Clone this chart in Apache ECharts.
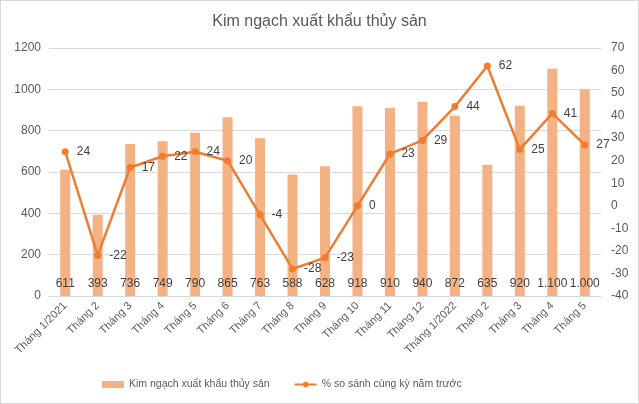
<!DOCTYPE html>
<html><head><meta charset="utf-8">
<script src="https://cdn.jsdelivr.net/npm/echarts@6/dist/echarts.min.js"></script>
<style>html,body{margin:0;padding:0;background:#fff}#c{width:637px;height:402px;border:1px solid #d9d9d9}</style>
</head><body><div id="c"></div>
<script>
const categories = ['Tháng 1/2021','Tháng 2','Tháng 3','Tháng 4','Tháng 5','Tháng 6','Tháng 7','Tháng 8','Tháng 9','Tháng 10','Tháng 11','Tháng 12','Tháng 1/2022','Tháng 2','Tháng 3','Tháng 4','Tháng 5'];
const exportValues = [611,393,736,749,790,865,763,588,628,918,910,940,872,635,920,1100,1000];
const yoyPercent = [24,-22,17,22,24,20,-4,-28,-23,0,23,29,44,62,25,41,27];
const barName = 'Kim ngạch xuất khẩu thủy sản';
const lineName = '% so sánh cùng kỳ năm trước';
const fmt = v => v >= 1000 ? String(v).replace(/\B(?=(\d{3})+(?!\d))/g, '.') : String(v);
const font = 'Liberation Sans, Arial, sans-serif';
const chart = echarts.init(document.getElementById('c'));
chart.setOption({
  animation:false,
  textStyle:{fontFamily:font},
  title:{text:'Kim ngạch xuất khẩu thủy sản',left:'center',top:8,textStyle:{fontFamily:font,fontSize:16,fontWeight:'normal',color:'#595959'}},
  legend:{left:96,bottom:8,itemGap:24,textStyle:{fontFamily:font,fontSize:10.5,color:'#595959'},
    data:[{name:barName,icon:'rect',itemStyle:{color:'#F4B183'}},{name:lineName}],itemWidth:22,itemHeight:7},
  grid:{left:48,right:37,top:47,bottom:107},
  xAxis:{type:'category',data:categories,axisTick:{show:false},axisLine:{lineStyle:{color:'#d9d9d9'}},
    axisLabel:{rotate:45,interval:0,fontSize:11,color:'#595959',margin:8}},
  yAxis:[
    {type:'value',min:0,max:1200,interval:200,axisLabel:{fontSize:12,color:'#595959',formatter:v=>String(v)},splitLine:{lineStyle:{color:'#d9d9d9'}}},
    {type:'value',min:-40,max:70,interval:10,axisLabel:{fontSize:12,color:'#595959',margin:10},splitLine:{show:false}}
  ],
  series:[
    {name:barName,type:'bar',data:exportValues,barWidth:10,itemStyle:{color:'#F4B183'},
      label:{show:true,position:'insideBottom',distance:6,color:'#404040',fontSize:12,formatter:p=>fmt(p.value)}},
    {name:lineName,type:'line',yAxisIndex:1,data:yoyPercent,symbol:'circle',symbolSize:7,
      itemStyle:{color:'#ED7D31'},lineStyle:{color:'#ED7D31',width:2.5},
      label:{show:true,position:'right',distance:8,color:'#404040',fontSize:12}}
  ]
});
</script></body></html>
